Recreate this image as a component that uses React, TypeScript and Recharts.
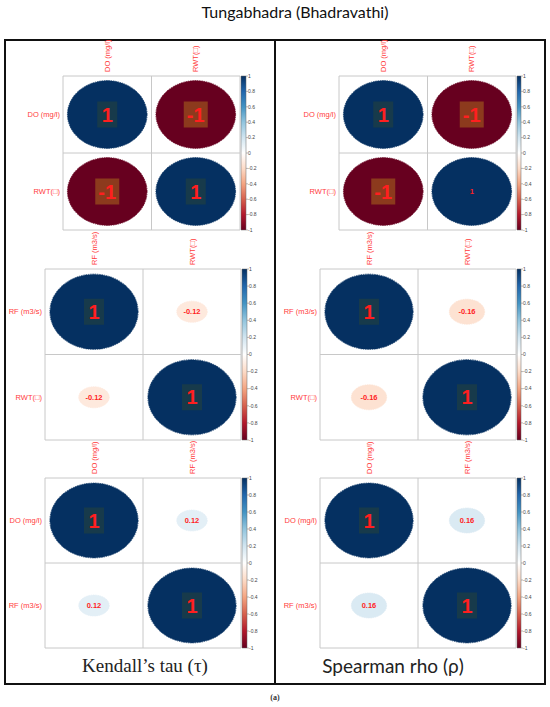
import React from "react";
import { ScatterChart, Scatter, XAxis, YAxis, ReferenceLine, ReferenceArea } from "recharts";

// variable names for each 2x2 matrix (row order = column order)
const doRwtNames = ["DO (mg/l)", "RWT(□)"];
const rfRwtNames = ["RF (m3/s)", "RWT(□)"];
const doRfNames = ["DO (mg/l)", "RF (m3/s)"];

// correlation values, row-major
const kendallDoRwt = [1, -1, -1, 1];
const kendallRfRwt = [1, -0.12, -0.12, 1];
const kendallDoRf = [1, 0.12, 0.12, 1];
const spearmanDoRwt = [1, -1, -1, 1];
const spearmanRfRwt = [1, -0.16, -0.16, 1];
const spearmanDoRf = [1, 0.16, 0.16, 1];

// which cells carry the big highlighted number
const boxedAll = [true, true, true, true];
const boxedDiag = [true, false, false, true];
const boxedSpearmanDoRwt = [true, true, true, false];

const colorbarTicks = [1, 0.8, 0.6, 0.4, 0.2, 0, -0.2, -0.4, -0.6, -0.8, -1];
const rdbu = ["#67001F", "#B2182B", "#D6604D", "#F4A582", "#FDDBC7", "#FFFFFF", "#D1E5F0", "#92C5DE", "#4393C3", "#2166AC", "#053061"];

const hex = (c: string) => [1, 3, 5].map((i) => parseInt(c.slice(i, i + 2), 16));
const corrColor = (r: number) => {
  const t = ((r + 1) / 2) * (rdbu.length - 1);
  const i = Math.min(Math.floor(t), rdbu.length - 2);
  const f = t - i;
  const a = hex(rdbu[i]);
  const b = hex(rdbu[i + 1]);
  const m = a.map((v, k) => Math.round(v + (b[k] - v) * f));
  return `rgb(${m[0]},${m[1]},${m[2]})`;
};
const fmt = (v: number) => String(Math.round(v * 100) / 100);

const labelRed = "#ff3b3b";
const sans = "'Liberation Sans', Arial, sans-serif";

type Geo = { colLeft: number; gridLeft: number; gridRight: number; cbRight: number; top: number; bottom: number };

function CorrPanel({ id, names, values, boxed, geo }: { id: string; names: string[]; values: number[]; boxed: boolean[]; geo: Geo }) {
  const topH = 46;
  const rightW = 16;
  const yAxisW = geo.gridLeft - geo.colLeft;
  const gridW = geo.gridRight - geo.gridLeft;
  const gridH = geo.bottom - geo.top;
  const cw = gridW / 2;
  const ch = gridH / 2;
  const xMax = (geo.cbRight - geo.gridLeft) / cw;
  const cbStart = (geo.gridRight + 1 - geo.gridLeft) / cw;
  const width = yAxisW + (geo.cbRight - geo.gridLeft) + rightW;
  const height = topH + gridH + 2;

  const data = values.map((r, k) => ({ x: (k % 2) + 0.5, y: Math.floor(k / 2) + 0.5, r, boxed: boxed[k] }));
  const cbData = [{ x: cbStart, y: -1 }, { x: xMax, y: 1 }];

  const shape = (p: any) => {
    const { cx, cy, payload } = p;
    const a = Math.abs(payload.r);
    const rx = 0.45 * cw * Math.sqrt(a);
    const ry = 0.44 * ch * Math.pow(a, 0.6);
    const label = fmt(payload.r);
    const boxW = label.length > 1 ? 24 : 20;
    return (
      <g>
        <ellipse cx={cx} cy={cy} rx={rx} ry={ry} fill={corrColor(payload.r)} stroke={corrColor(payload.r)} strokeWidth={0.8} strokeDasharray="1.5 0.8" />
        {payload.boxed && (
          <rect x={cx - boxW / 2} y={cy - 13} width={boxW} height={26} fill={payload.r > 0 ? "#173a4b" : "#8c3a1d"} />
        )}
        <text x={cx} y={cy} dy="0.36em" textAnchor="middle" fontSize={payload.boxed ? 20 : 7.5} fontWeight="bold" fill="#ff1f1f" fontFamily={sans}>
          {label}
        </text>
      </g>
    );
  };

  const TopTick = (p: any) => (
    <text transform={`rotate(-90 ${p.x} ${p.y})`} x={p.x} y={p.y} dy="0.35em" textAnchor="start" fontSize={7.5} fill={labelRed} fontFamily={sans}>
      {names[Math.floor(p.payload.value)]}
    </text>
  );
  const LeftTick = (p: any) => (
    <text x={p.x} y={p.y} dy="0.35em" textAnchor="end" fontSize={7.5} fill={labelRed} fontFamily={sans}>
      {names[Math.floor(p.payload.value)]}
    </text>
  );
  const CbTick = (p: any) => (
    <text x={p.x} y={p.y} dy="0.35em" textAnchor="start" fontSize={5} fill="#444" fontFamily={sans}>
      {fmt(p.payload.value)}
    </text>
  );

  return (
    <div style={{ position: "absolute", left: geo.colLeft, top: geo.top - topH }}>
      <ScatterChart width={width} height={height} margin={{ top: 0, right: 0, bottom: 2, left: 0 }}>
        <defs>
          <linearGradient id={`cb-${id}`} x1="0" y1="1" x2="0" y2="0">
            {rdbu.map((c, i) => (
              <stop key={i} offset={i / (rdbu.length - 1)} stopColor={c} />
            ))}
          </linearGradient>
        </defs>
        <XAxis
          type="number"
          dataKey="x"
          orientation="top"
          domain={[0, xMax]}
          ticks={[0.5, 1.5]}
          interval={0}
          height={topH}
          axisLine={false}
          tickLine={false}
          tickSize={4}
          tickMargin={0}
          tick={TopTick}
        />
        <YAxis
          yAxisId="rows"
          type="number"
          dataKey="y"
          domain={[0, 2]}
          reversed
          ticks={[0.5, 1.5]}
          interval={0}
          width={yAxisW}
          axisLine={false}
          tickLine={false}
          tickSize={3}
          tickMargin={0}
          tick={LeftTick}
        />
        <YAxis
          yAxisId="cb"
          orientation="right"
          type="number"
          dataKey="y"
          domain={[-1, 1]}
          ticks={colorbarTicks}
          interval={0}
          width={rightW}
          axisLine={false}
          tickLine={{ stroke: "#777", strokeWidth: 0.5 }}
          tickSize={2}
          tickMargin={0}
          tick={CbTick}
        />
        <Scatter yAxisId="cb" data={cbData} shape={() => <g />} isAnimationActive={false} />
        <ReferenceArea yAxisId="cb" x1={cbStart} x2={xMax} y1={-1} y2={1} fill={`url(#cb-${id})`} fillOpacity={1} stroke="#666" strokeWidth={0.5} />
        {[0, 1, 2].map((v) => (
          <ReferenceLine key={`v${v}`} yAxisId="rows" segment={[{ x: v, y: 0 }, { x: v, y: 2 }]} stroke="#c8c8c8" strokeWidth={1} />
        ))}
        {[0, 1, 2].map((v) => (
          <ReferenceLine key={`h${v}`} yAxisId="rows" segment={[{ x: 0, y: v }, { x: 2, y: v }]} stroke="#c8c8c8" strokeWidth={1} />
        ))}
        <Scatter yAxisId="rows" data={data} shape={shape} isAnimationActive={false} />
      </ScatterChart>
    </div>
  );
}

const leftTop: Geo = { colLeft: 8, gridLeft: 63, gridRight: 240, cbRight: 246, top: 76, bottom: 230 };
const leftMid: Geo = { colLeft: 8, gridLeft: 45, gridRight: 241, cbRight: 247, top: 269, bottom: 440 };
const leftBot: Geo = { colLeft: 8, gridLeft: 45, gridRight: 241, cbRight: 247, top: 478, bottom: 648 };
const rightTop: Geo = { colLeft: 280, gridLeft: 339, gridRight: 516, cbRight: 521, top: 76, bottom: 230 };
const rightMid: Geo = { colLeft: 280, gridLeft: 320, gridRight: 516, cbRight: 521, top: 269, bottom: 440 };
const rightBot: Geo = { colLeft: 280, gridLeft: 320, gridRight: 516, cbRight: 521, top: 478, bottom: 648 };

export default function App() {
  return (
    <div style={{ position: "absolute", left: 0, top: 0, width: 550, height: 707, background: "#fff", overflow: "hidden" }}>
      <div style={{ position: "absolute", left: 0, width: 590, top: 2, textAlign: "center", fontFamily: "Lato, 'Open Sans', sans-serif", fontSize: 16, color: "#111" }}>
        Tungabhadra (Bhadravathi)
      </div>
      <div style={{ position: "absolute", left: 4, top: 39, width: 542, height: 646, border: "2px solid #111", boxSizing: "border-box" }} />
      <div style={{ position: "absolute", left: 274, top: 39, width: 2, height: 646, background: "#111" }} />

      <CorrPanel id="k1" names={doRwtNames} values={kendallDoRwt} boxed={boxedAll} geo={leftTop} />
      <CorrPanel id="k2" names={rfRwtNames} values={kendallRfRwt} boxed={boxedDiag} geo={leftMid} />
      <CorrPanel id="k3" names={doRfNames} values={kendallDoRf} boxed={boxedDiag} geo={leftBot} />
      <CorrPanel id="s1" names={doRwtNames} values={spearmanDoRwt} boxed={boxedSpearmanDoRwt} geo={rightTop} />
      <CorrPanel id="s2" names={rfRwtNames} values={spearmanRfRwt} boxed={boxedDiag} geo={rightMid} />
      <CorrPanel id="s3" names={doRfNames} values={spearmanDoRf} boxed={boxedDiag} geo={rightBot} />

      <div style={{ position: "absolute", left: 45, width: 200, top: 655, textAlign: "center", fontFamily: "'Liberation Serif', serif", fontSize: 19, color: "#222" }}>
        Kendall’s tau (τ)
      </div>
      <div style={{ position: "absolute", left: 293, width: 200, top: 654, textAlign: "center", fontFamily: "Lato, 'Open Sans', sans-serif", fontSize: 19, color: "#222" }}>
        Spearman rho (ρ)
      </div>
      <div style={{ position: "absolute", left: 255, width: 40, top: 693, textAlign: "center", fontFamily: "'Liberation Serif', serif", fontSize: 8, fontWeight: "bold", color: "#333" }}>
        (a)
      </div>
    </div>
  );
}
